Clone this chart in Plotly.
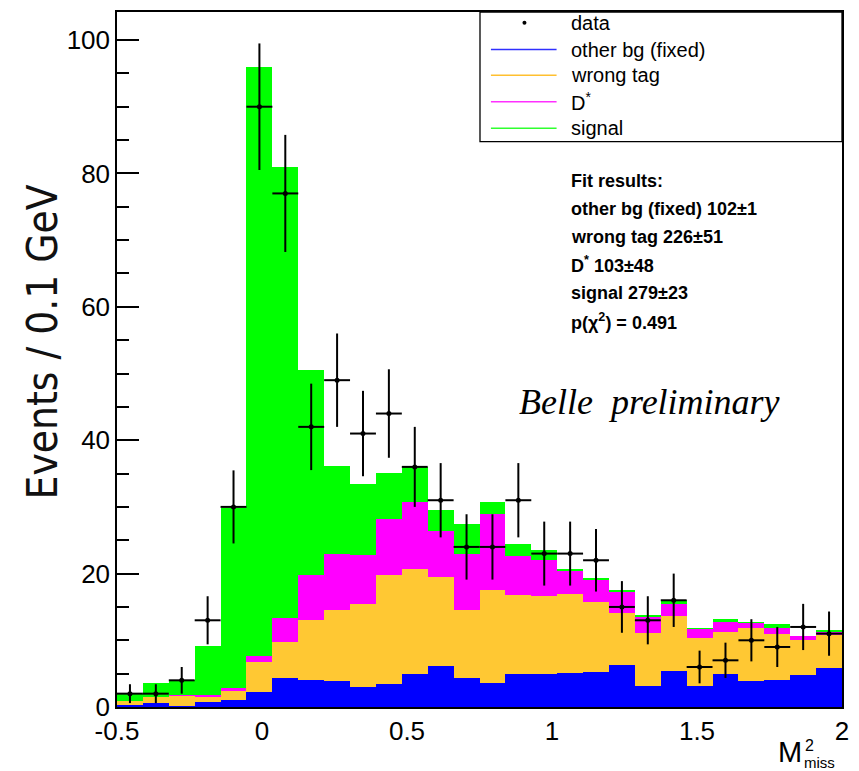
import numpy as np
import plotly.graph_objects as go

# ---- binning ----
x_lo, x_hi, n_bins = -0.5, 2.0, 28

# ---- data (events per bin) ----
data_counts = [2, 2, 4, 13, 30, 90, 77, 42, 49, 41, 44, 36, 31, 24, 24,
               31, 23, 23, 22, 15, 13, 16, 6, 7, 10, 9, 12, 11]

# ---- stacked fit components (cumulative stack tops) ----
top_other_bg = [0.2, 0.6, 0.1, 0.7, 1.1, 2.2, 4.3, 4.1, 3.9, 3.0, 3.5, 5.0, 6.1, 4.3,
                3.6, 4.9, 4.9, 5.1, 5.2, 6.3, 3.1, 5.35, 3.1, 5.0, 3.9, 4.1, 4.75, 5.9]
top_wrong_tag = [0.85, 1.5, 1.6, 1.57, 2.47, 6.75, 9.74, 13.07, 14.6, 15.4, 19.8, 20.7, 19.5, 14.6,
                 17.5, 16.8, 16.6, 17.0, 15.7, 14.1, 11.1, 13.6, 10.4, 11.3, 11.8, 10.9, 10.0, 10.8]
top_dstar = [0.9, 1.55, 1.77, 1.77, 2.87, 7.6, 13.4, 19.8, 23.0, 22.8, 28.2, 30.75, 26.4, 23.0,
             28.9, 22.7, 22.1, 20.4, 19.1, 17.26, 13.5, 15.5, 11.7, 12.8, 12.6, 11.8, 10.6, 11.3]
top_signal = [2.0, 3.6, 4.1, 9.1, 29.9, 96.0, 80.9, 50.6, 36.2, 33.5, 35.1, 36.0, 29.6, 27.5,
              30.75, 24.5, 23.6, 20.65, 19.3, 17.56, 13.8, 16.1, 11.8, 13.2, 12.8, 12.5, 10.7, 11.5]

legend_names = ["data", "other bg (fixed)", "wrong tag", "D<sup>*</sup>", "signal"]
fit_lines = ["Fit results:", "other bg (fixed) 102\u00b11", "wrong tag 226\u00b151",
             "D<sup>*</sup> 103\u00b148", "signal 279\u00b123", "p(\u03c7<sup>2</sup>) = 0.491"]

C_BLUE, C_ORANGE, C_MAG, C_GREEN = "#0000ff", "#ffc833", "#ff00ff", "#00ff00"

edges = np.linspace(x_lo, x_hi, n_bins + 1)
centers = 0.5 * (edges[:-1] + edges[1:])
bw = edges[1] - edges[0]

fig = go.Figure()
for tops, col in [(top_signal, C_GREEN), (top_dstar, C_MAG),
                  (top_wrong_tag, C_ORANGE), (top_other_bg, C_BLUE)]:
    fig.add_trace(go.Bar(x=centers, y=tops, width=bw, marker=dict(color=col, line=dict(width=0)),
                         opacity=1, showlegend=False, hoverinfo="skip"))

cnt = np.array(data_counts, dtype=float)
fig.add_trace(go.Scatter(
    x=centers, y=cnt, mode="markers",
    marker=dict(color="black", size=5),
    error_y=dict(type="data", array=np.sqrt(cnt), color="black", thickness=2, width=0),
    error_x=dict(type="constant", value=bw / 2, color="black", thickness=2, width=0),
    showlegend=False))

W, H = 859, 771
L, R, T, B = 117, 13, 10, 64
pw, ph = W - L - R, H - T - B


def pxx(x):
    return (x - L) / pw


def pyy(y):
    return (H - B - y) / ph


shapes = []
anns = []
# legend box
shapes.append(dict(type="rect", xref="paper", yref="paper", x0=pxx(482), x1=pxx(846),
                   y0=pyy(140), y1=pyy(10), line=dict(color="black", width=1.3)))
rows = [20.7, 47.7, 73.5, 100, 126.5]
line_cols = [None, "#3030ff", "#ffc030", "#ff30ff", "#30ff30"]
for name, yr, lc in zip(legend_names, rows, line_cols):
    if lc:
        shapes.append(dict(type="line", xref="paper", yref="paper", x0=pxx(493), x1=pxx(559),
                           y0=pyy(yr), y1=pyy(yr), line=dict(color=lc, width=1.5)))
    anns.append(dict(x=pxx(571), y=pyy(yr), xref="paper", yref="paper", text=name,
                     showarrow=False, xanchor="left", yanchor="middle",
                     font=dict(family="Liberation Sans", size=20, color="black")))
# data dot in legend
fig.add_trace(go.Scatter(x=[pxx(526.7)], y=[pyy(20.7)], xaxis="x2", yaxis="y2", mode="markers",
                         marker=dict(color="black", size=4), showlegend=False, hoverinfo="skip"))

fit_rows = [179, 207.5, 235.5, 263, 291.5, 320]
for t, yr in zip(fit_lines, fit_rows):
    anns.append(dict(x=pxx(571), y=pyy(yr), xref="paper", yref="paper", text="<b>" + t + "</b>",
                     showarrow=False, xanchor="left", yanchor="middle",
                     font=dict(family="Liberation Sans", size=18, color="black")))

anns.append(dict(x=pxx(652), y=pyy(401), xref="paper", yref="paper", text="<i>Belle  preliminary</i>",
                 showarrow=False, xanchor="center", yanchor="middle",
                 font=dict(family="Liberation Serif", size=36, color="black")))

# axis titles
anns.append(dict(x=pxx(42), y=pyy(341), xref="paper", yref="paper", text="Events / 0.1 GeV",
                 textangle=-90, showarrow=False, xanchor="center", yanchor="middle",
                 font=dict(family="DejaVu Sans Condensed", size=42, color="#111111")))
anns.append(dict(x=pxx(808), y=pyy(752), xref="paper", yref="paper", text="M",
                 showarrow=False, xanchor="right", yanchor="middle",
                 font=dict(family="Liberation Sans", size=29, color="black")))
anns.append(dict(x=pxx(807), y=pyy(746), xref="paper", yref="paper", text="2",
                 showarrow=False, xanchor="left", yanchor="middle",
                 font=dict(family="Liberation Sans", size=16, color="black")))
anns.append(dict(x=pxx(806), y=pyy(763), xref="paper", yref="paper", text="miss",
                 showarrow=False, xanchor="left", yanchor="middle",
                 font=dict(family="Liberation Sans", size=15, color="black")))

fig.update_layout(
    width=W, height=H, margin=dict(l=L, r=R, t=T, b=B, pad=0),
    paper_bgcolor="white", plot_bgcolor="white",
    barmode="overlay", bargap=0,
    shapes=shapes, annotations=anns,
    xaxis=dict(range=[x_lo, x_hi], showgrid=False, zeroline=False, showline=True, mirror=True,
               linecolor="black", linewidth=1.5, ticks="", tickvals=[-0.5, 0, 0.5, 1, 1.5, 2],
               ticktext=["-0.5", "0", "0.5", "1", "1.5", "2"],
               tickfont=dict(family="Liberation Sans", size=26, color="black")),
    yaxis=dict(range=[0, 104.2], showgrid=False, zeroline=False, showline=True, mirror=True,
               linecolor="black", linewidth=1.5, ticks="inside", ticklen=22, tickwidth=1.5,
               tickcolor="black", tickvals=[0, 20, 40, 60, 80, 100],
               minor=dict(ticks="inside", ticklen=12, tickwidth=1.5, tickcolor="black", dtick=5, showgrid=False),
               tickfont=dict(family="Liberation Sans", size=26, color="black")),
    xaxis2=dict(range=[0, 1], domain=[0, 1], overlaying="x", visible=False, fixedrange=True),
    yaxis2=dict(range=[0, 1], domain=[0, 1], overlaying="y", visible=False, fixedrange=True),
)

fig.write_html("out.html")
